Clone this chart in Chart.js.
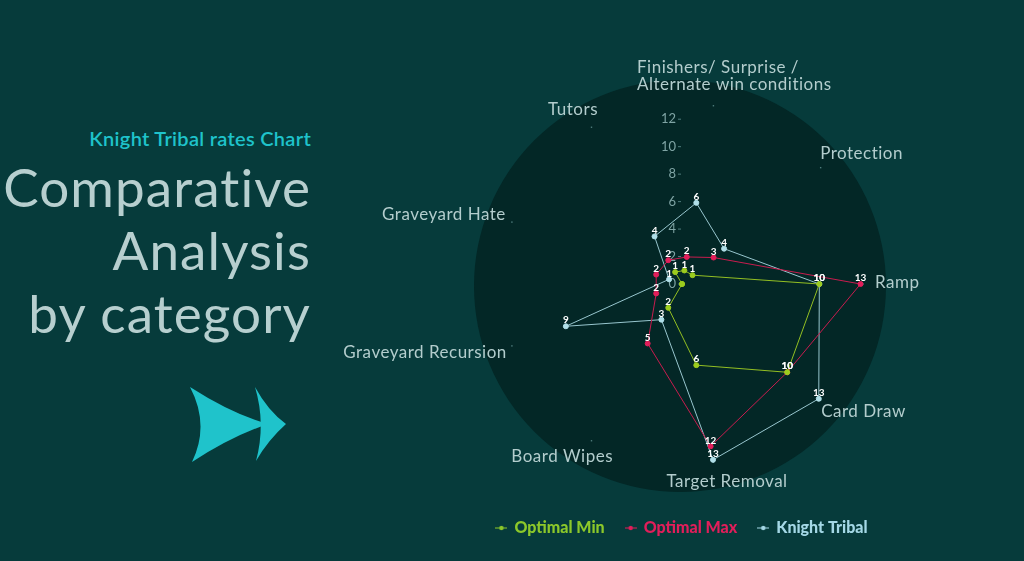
<!DOCTYPE html>
<html>
<head>
<meta charset="utf-8">
<script src="https://cdn.jsdelivr.net/npm/chart.js@4.4.1/dist/chart.umd.min.js"></script>
<style>
  html, body { margin:0; padding:0; }
  body { width:1024px; height:561px; overflow:hidden; background:#063b3b; position:relative; font-family:Lato, "Open Sans", sans-serif; }
  #chartWrap { position:absolute; left:0; top:0; width:1024px; height:561px; }
  .sub { position:absolute; right:713px; top:127px; line-height:22px; font-size:20px; font-weight:600; letter-spacing:0.3px; color:#1fc3cb; white-space:nowrap; text-align:right; }
  .big { position:absolute; right:713px; top:155px; line-height:63px; font-size:53px; font-weight:400; letter-spacing:1.1px; color:#b7cfcf; text-align:right; white-space:nowrap; }
  svg.arrow { position:absolute; left:0; top:0; }
</style>
</head>
<body>
<div class="sub">Knight Tribal rates Chart</div>
<div class="big">Comparative<br>Analysis<br>by category</div>
<svg class="arrow" width="320" height="561" viewBox="0 0 320 561">
  <path d="M190,387 Q232,414 268,424 Q232,436 192,462 Q210,425 190,387 Z" fill="#1fc3cb"/>
  <path d="M255,387 Q268,411 286,424 Q268,440 256,461 Q266,424 255,387 Z" fill="#1fc3cb"/>
</svg>
<div id="chartWrap"><canvas id="c" width="1024" height="561"></canvas></div>
<script>
// ---- data ----
const categories = [
  ['Finishers/ Surprise /', 'Alternate win conditions'],
  'Protection',
  'Ramp',
  'Card Draw',
  'Target Removal',
  'Board Wipes',
  'Graveyard Recursion',
  'Graveyard Hate',
  'Tutors'
];
const optimalMin   = [1, 1, 10, 10, 6, 2, 0, 0, 1];
const optimalMax   = [2, 3, 13, 10, 12, 5, 2, 2, 2];
const knightTribal = [6, 4, 10, 13, 13, 3, 9, 1, 4];
const tickLabels   = [0, 2, 4, 6, 8, 10, 12];
const seriesNames  = ['Optimal Min', 'Optimal Max', 'Knight Tribal'];

// ---- style ----
const COLORS = {
  min:   { line:'#93bf22', point:'#9ccc1e', text:'#8cc82a' },
  max:   { line:'#c81c4e', point:'#e11e5a', text:'#e11e5a' },
  kt:    { line:'#98c6ce', point:'#b0dfe8', text:'#a4d8e6' }
};
const LABEL_LAYOUT = [
  {align:'left',   dx:-79, dy:-23},
  {align:'left',   dx:-12, dy:-4},
  {align:'left',   dx:-3,  dy:-1},
  {align:'left',   dx:-11, dy:2},
  {align:'center', dx:11,  dy:4},
  {align:'right',  dx:29,  dy:3},
  {align:'right',  dx:9,   dy:1},
  {align:'right',  dx:8,   dy:-2},
  {align:'right',  dx:14,  dy:-5}
];

function legendMarker(color) {
  const c = document.createElement('canvas');
  c.width = 12; c.height = 6;
  const x = c.getContext('2d');
  x.strokeStyle = color; x.lineWidth = 1;
  x.beginPath(); x.moveTo(0, 3); x.lineTo(12, 3); x.stroke();
  x.fillStyle = color;
  x.beginPath(); x.arc(6, 3, 2.2, 0, Math.PI * 2); x.fill();
  return c;
}

const bgCircle = {
  id: 'bgCircle',
  beforeDatasetsDraw(chart) {
    const s = chart.scales.r, ctx = chart.ctx;
    ctx.save();
    ctx.fillStyle = '#032726';
    ctx.beginPath();
    ctx.arc(s.xCenter - 2, s.yCenter + 2, s.drawingArea, 0, Math.PI * 2);
    ctx.fill();
    // tiny axis-end marks
    ctx.fillStyle = '#4f7d7d';
    for (let i = 0; i < categories.length; i++) {
      const p = s.getPointPosition(i, s.drawingArea - 25);
      ctx.fillRect(p.x - 0.7, p.y - 0.7, 1.4, 1.4);
    }
    // value axis tick labels
    ctx.font = '13px Lato, sans-serif';
    ctx.textAlign = 'right';
    ctx.textBaseline = 'middle';
    tickLabels.forEach(v => {
      const y = s.yCenter - s.getDistanceFromCenterForValue(v);
      ctx.fillStyle = '#7fa4a4';
      ctx.fillText(String(v), s.xCenter - 6, y);
      ctx.fillStyle = '#4f7d7d';
      ctx.fillRect(s.xCenter - 4, y - 0.5, 3, 1);
    });
    ctx.restore();
  },
  afterDatasetsDraw(chart) {
    const s = chart.scales.r, ctx = chart.ctx;
    ctx.save();
    // point labels
    ctx.font = '17px Lato, sans-serif';
    ctx.letterSpacing = '0.5px';
    ctx.fillStyle = '#b3cdcd';
    ctx.textBaseline = 'middle';
    categories.forEach((lab, i) => {
      const p = s.getPointPosition(i, s.drawingArea - 10);
      const L = LABEL_LAYOUT[i];
      ctx.textAlign = L.align;
      const lines = Array.isArray(lab) ? lab : [lab];
      lines.forEach((t, k) => ctx.fillText(t, p.x + L.dx, p.y + L.dy + k * 17));
    });
    ctx.letterSpacing = '0px';
    // data labels (zero labels are hidden by overlap with the axis origin)
    ctx.font = 'bold 10px Lato, sans-serif';
    ctx.textAlign = 'center';
    ctx.textBaseline = 'middle';
    ctx.fillStyle = '#ffffff';
    chart.data.datasets.forEach((ds, di) => {
      const meta = chart.getDatasetMeta(di);
      meta.data.forEach((el, i) => {
        if (ds.data[i] === 0) return;
        ctx.fillText(String(ds.data[i]), el.x, el.y - 6);
      });
    });
    ctx.restore();
  }
};

function ds(label, data, c) {
  return {
    label, data,
    borderColor: c.line, backgroundColor: c.point,
    pointBackgroundColor: c.point, pointBorderColor: c.point,
    pointRadius: 2.5, pointBorderWidth: 1, borderWidth: 1, fill: false, tension: 0,
    legendColor: c.text
  };
}

new Chart(document.getElementById('c'), {
  type: 'radar',
  data: {
    labels: categories,
    datasets: [
      ds(seriesNames[0], optimalMin, COLORS.min),
      ds(seriesNames[1], optimalMax, COLORS.max),
      ds(seriesNames[2], knightTribal, COLORS.kt)
    ]
  },
  options: {
    responsive: false,
    animation: false,
    devicePixelRatio: 1,
    layout: { padding: { top: 78, bottom: 15, left: 372, right: 32 } },
    scales: {
      r: {
        min: 0, max: 15, startAngle: 10,
        ticks: { display: false, stepSize: 2 },
        grid: { display: false },
        angleLines: { display: false },
        pointLabels: { display: false }
      }
    },
    plugins: {
      tooltip: { enabled: false },
      legend: {
        position: 'bottom',
        title: { display: true, text: ' ', padding: 0, font: { size: 7, lineHeight: 1.2 } },
        labels: {
          usePointStyle: true,
          pointStyleWidth: 10,
          padding: 21,
          font: { family: 'Lato', size: 16, weight: 900 },
          generateLabels(chart) {
            return chart.data.datasets.map((d, i) => ({
              text: d.label,
              fontColor: d.legendColor,
              pointStyle: legendMarker(d.legendColor),
              fillStyle: d.legendColor,
              strokeStyle: d.legendColor,
              lineWidth: 0,
              hidden: false,
              datasetIndex: i
            }));
          }
        }
      }
    }
  },
  plugins: [bgCircle]
});
</script>
</body>
</html>
